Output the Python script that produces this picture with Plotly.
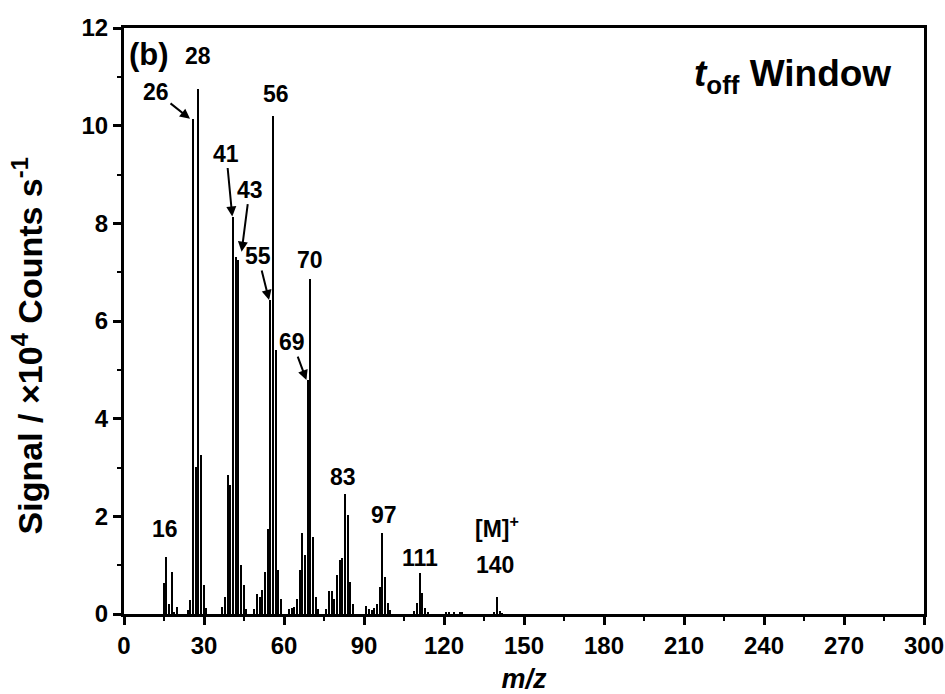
import plotly.graph_objects as go

# m/z values and signal (x10^4 counts/s)
mz = [15, 16, 17, 18, 19, 20,
      24, 25, 26, 27, 28, 29, 30, 31,
      37, 38, 39, 40, 41, 42, 43, 44, 45, 46,
      49, 50, 51, 52, 53, 54, 55, 56, 57, 58, 59,
      62, 63, 64, 65, 66, 67, 68, 69, 70, 71, 72, 73,
      76, 77, 78, 79, 80, 81, 82, 83, 84, 85, 86,
      91, 92, 93, 94, 95, 96, 97, 98, 99, 100,
      109, 110, 111, 112, 113, 114,
      121, 122, 124, 126, 127,
      139, 140, 141, 142]
signal = [0.63, 1.16, 0.20, 0.85, 0.05, 0.15,
          0.08, 0.28, 10.13, 3.02, 10.75, 3.26, 0.60, 0.12,
          0.15, 0.35, 2.85, 2.65, 8.12, 7.32, 7.25, 1.00, 0.60, 0.10,
          0.10, 0.40, 0.35, 0.50, 0.85, 1.75, 6.43, 10.20, 5.40, 0.90, 0.30,
          0.10, 0.12, 0.15, 0.30, 0.90, 1.65, 1.20, 4.79, 6.87, 1.58, 0.35, 0.10,
          0.10, 0.47, 0.47, 0.30, 0.80, 1.10, 1.15, 2.46, 2.03, 0.66, 0.20,
          0.16, 0.10, 0.08, 0.12, 0.20, 0.56, 1.65, 0.75, 0.22, 0.08,
          0.06, 0.23, 0.83, 0.42, 0.12, 0.03,
          0.04, 0.05, 0.03, 0.04, 0.04,
          0.03, 0.34, 0.06, 0.02]

x_ticks = [0, 30, 60, 90, 120, 150, 180, 210, 240, 270, 300]
y_ticks = [0, 2, 4, 6, 8, 10, 12]

# peak labels: (text, x, y)
plain_labels = [("(b)", 9.5, 11.45), ("28", 27.9, 11.43), ("56", 56.9, 10.65),
                ("70", 69.6, 7.25), ("16", 15.4, 1.733), ("83", 82.2, 2.80),
                ("97", 97.5, 2.02), ("111", 111.0, 1.15),
                ("[M]<sup>+</sup>", 140.0, 1.79), ("140", 139.1, 1.01)]
# arrow labels: (text, head_x, head_y, ax_px, ay_px)
arrow_labels = [("26", 24.75, 10.14, -34, -27), ("41", 40.6, 8.14, -6, -63),
                ("43", 44.1, 7.42, 8, -62), ("55", 54.4, 6.43, -11, -44),
                ("69", 68.4, 4.79, -14, -38)]

FONT = "Liberation Sans, Arial, sans-serif"

fig = go.Figure()
fig.add_trace(go.Bar(x=mz, y=signal, width=0.6,
                     marker=dict(color="black", line=dict(width=0)),
                     showlegend=False))

for txt, x, y in plain_labels:
    size = 31 if txt == "(b)" else 23
    fig.add_annotation(x=x, y=y, text=txt, showarrow=False,
                       font=dict(family=FONT, size=size, color="black", weight="bold"))

for txt, hx, hy, ax, ay in arrow_labels:
    fig.add_annotation(x=hx, y=hy, text=txt, showarrow=True, ax=ax, ay=ay,
                       arrowhead=2, arrowsize=1.0, arrowwidth=2, arrowcolor="black",
                       standoff=0,
                       font=dict(family=FONT, size=23, color="black", weight="bold"))

fig.add_annotation(xref="paper", yref="paper", x=0.961, y=0.918, xanchor="right",
                   yanchor="middle",
                   text="<i>t</i><sub>off</sub> Window", showarrow=False,
                   font=dict(family=FONT, size=37, color="black", weight="bold"))

# y-axis title drawn as rotated text (positioned as in the reference)
fig.add_annotation(xref="paper", yref="paper", x=-0.121, y=0.457,
                   xanchor="center", yanchor="middle", textangle=-90,
                   text="Signal / ×10<sup>4</sup> Counts s<sup>-1</sup>", showarrow=False,
                   font=dict(family=FONT, size=34, color="black", weight="bold"))

fig.update_layout(
    width=945, height=694,
    margin=dict(l=124, r=21, t=28, b=80, autoexpand=False),
    plot_bgcolor="white", paper_bgcolor="white",
    bargap=0,
    font=dict(family=FONT, color="black"),
)
fig.update_xaxes(
    range=[0, 300], tickvals=x_ticks, ticktext=[str(v) for v in x_ticks],
    showgrid=False, zeroline=False, automargin=False,
    showline=True, linecolor="black", linewidth=3, mirror=True,
    ticks="outside", ticklen=8, tickwidth=2.5, tickcolor="black",
    minor=dict(dtick=15, tick0=0, ticks="outside", ticklen=4, tickwidth=2, tickcolor="black"),
    tickfont=dict(family=FONT, size=24, color="black", weight="bold"),
    title=dict(text="<i>m/z</i>", standoff=12,
               font=dict(family=FONT, size=27, color="black", weight="bold")),
)
fig.update_yaxes(
    range=[0, 12], tickvals=y_ticks, ticktext=[str(v) for v in y_ticks],
    showgrid=False, zeroline=False, automargin=False,
    showline=True, linecolor="black", linewidth=3, mirror=True,
    ticks="outside", ticklen=8, tickwidth=2.5, tickcolor="black",
    minor=dict(dtick=1, tick0=0, ticks="outside", ticklen=4, tickwidth=2, tickcolor="black"),
    tickfont=dict(family=FONT, size=24, color="black", weight="bold"),
)

fig.write_html("out.html")
